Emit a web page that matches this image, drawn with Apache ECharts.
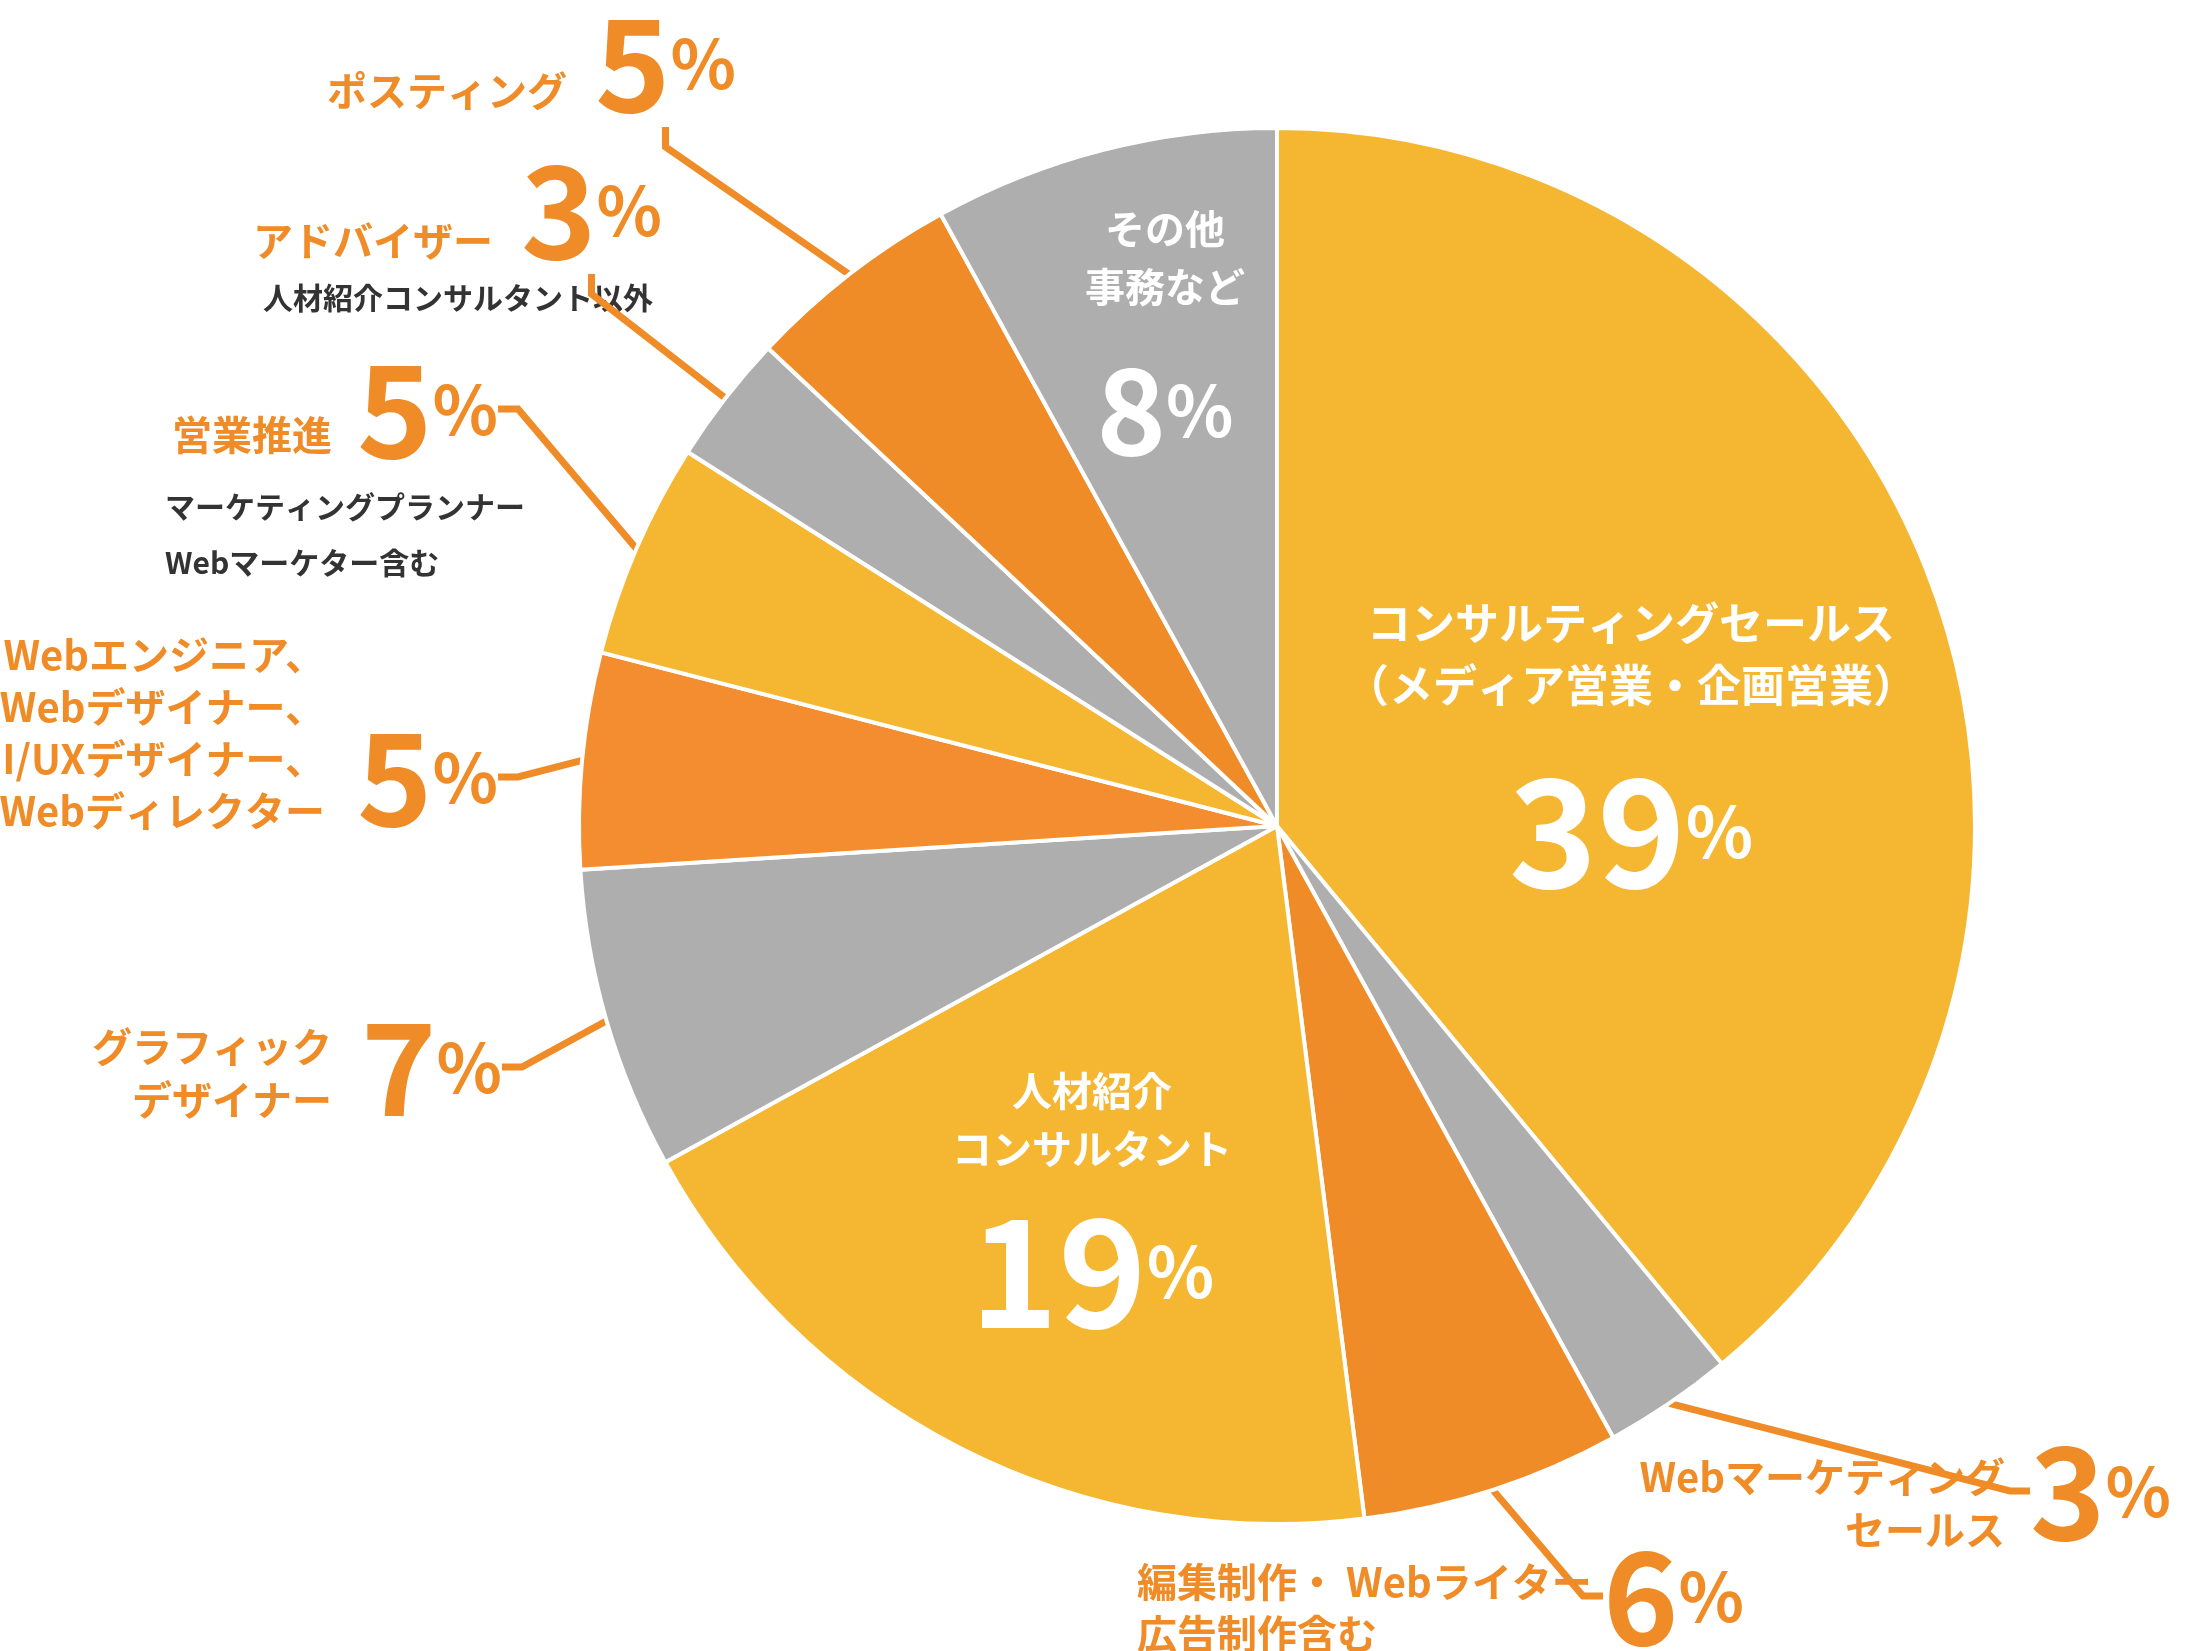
<!DOCTYPE html>
<html><head><meta charset="utf-8">
<script src="https://cdn.jsdelivr.net/npm/echarts@6/dist/echarts.min.js"></script>
<style>html,body{margin:0;background:#fff}#c{width:2194px;height:1651px}</style>
</head><body><div id="c"></div>
<script>
// data, clockwise from 12 o'clock
var names = ['コンサルティングセールス', 'Webマーケティングセールス', '編集制作・Webライター', '人材紹介コンサルタント',
  'グラフィックデザイナー', 'Webエンジニア等', '営業推進', 'アドバイザー', 'ポスティング', 'その他事務など'];
var values = [39, 3, 6, 19, 7, 5, 5, 3, 5, 8];
var colors = ['#F5B731', '#AEAEAE', '#EF8C27', '#F5B731', '#AEAEAE', '#F48D2F', '#F5B731', '#AEAEAE', '#EF8C27', '#AEAEAE'];
// inside label captions
var insideText = {0: ['コンサルティングセールス', '（メディア営業・企画営業）'], 3: ['人材紹介', 'コンサルタント'], 9: ['その他', '事務など']};
// outside captions (orange, right aligned unless noted)
var outsideNames = [
  {lines: ['ポスティング'], x: 567, y: [91]},
  {lines: ['アドバイザー'], x: 493, y: [241]},
  {lines: ['営業推進'], x: 332, y: [435]},
  {lines: ['Webエンジニア、', 'Webデザイナー、', 'UI/UXデザイナー、', 'Webディレクター'], x: 325, y: [655, 707, 759, 811]},
  {lines: ['グラフィック', 'デザイナー'], x: 332, y: [1047, 1100]},
  {lines: ['編集制作・ Webライター', '広告制作含む'], x: 1137, y: [1582, 1634], left: true},
  {lines: ['Webマーケティング', 'セールス'], x: 2005, y: [1477, 1530]}
];
var subNotes = [
  {text: '人材紹介コンサルタント以外', x: 263, y: 298},
  {text: 'マーケティングプランナー', x: 165, y: 507},
  {text: 'Webマーケター含む', x: 165, y: 563}
];
// pixel positions of the percentage labels
var pctPos = {1: [2030, 1491], 2: [1603, 1596], 4: [361, 1067], 5: [357, 777], 6: [357, 409], 7: [521, 210], 8: [595, 63],
  0: [1631, 592], 3: [1092, 1062], 9: [1165, 200]};

var F = '"Noto Sans CJK JP", "Noto Sans", sans-serif';
var chart = echarts.init(document.getElementById('c'));

var data = values.map(function (v, i) {
  var d = {name: names[i], value: v, itemStyle: {color: colors[i]}};
  if (insideText[i]) {
    var big = i === 9 ? 'q' : 'p';
    d.label = {position: 'inside',
      formatter: '{n|' + insideText[i][0] + '}\n{n|' + insideText[i][1] + '}\n{' + big + '|' + v + '}{s|%}',
      rich: {
        n: {color: '#fff', fontSize: i === 0 ? 44 : 40, fontWeight: 'bold', fontFamily: F, lineHeight: i === 0 ? 62 : 58},
        p: {color: '#fff', fontSize: 150, fontWeight: 'bold', fontFamily: F, lineHeight: i === 0 ? 230 : 186},
        q: {color: '#fff', fontSize: 118, fontWeight: 'bold', fontFamily: F, lineHeight: 188},
        s: {color: '#fff', fontSize: 70, fontWeight: 'bold', fontFamily: F}
      }};
    d.labelLine = {show: false};
  }
  return d;
});

var graphics = [];
outsideNames.forEach(function (o) {
  o.lines.forEach(function (t, k) {
    graphics.push({type: 'text', style: {text: t, x: o.x, y: o.y[k], align: o.left ? 'left' : 'right',
      verticalAlign: 'middle', fill: '#EF8C27', font: 'bold 40px ' + F}});
  });
});
subNotes.forEach(function (s) {
  graphics.push({type: 'text', style: {text: s.text, x: s.x, y: s.y, align: 'left', verticalAlign: 'middle',
    fill: '#333', font: 'bold 30px ' + F}});
});

chart.setOption({
  animation: false,
  graphic: graphics,
  series: [{
    type: 'pie',
    center: [1277, 826],
    radius: 698,
    startAngle: 90,
    clockwise: true,
    itemStyle: {borderColor: '#fff', borderWidth: 4},
    label: {
      position: 'outside',
      formatter: function (p) { return '{p|' + p.value + '}{s|%}'; },
      rich: {
        p: {color: '#EF8C27', fontSize: 128, fontWeight: 'bold', fontFamily: F, lineHeight: 130},
        s: {color: '#EF8C27', fontSize: 68, fontWeight: 'bold', fontFamily: F}
      }
    },
    labelLine: {show: true, length: 30, length2: 20, lineStyle: {color: '#EF8C27', width: 7}},
    labelLayout: function (p) {
      var pos = pctPos[p.dataIndex];
      if (insideText[p.dataIndex]) return {x: pos[0], y: pos[1], align: 'center', verticalAlign: 'top'};
      return {x: pos[0], y: pos[1], align: 'left', verticalAlign: 'middle'};
    },
    data: data
  }]
});
</script></body></html>
